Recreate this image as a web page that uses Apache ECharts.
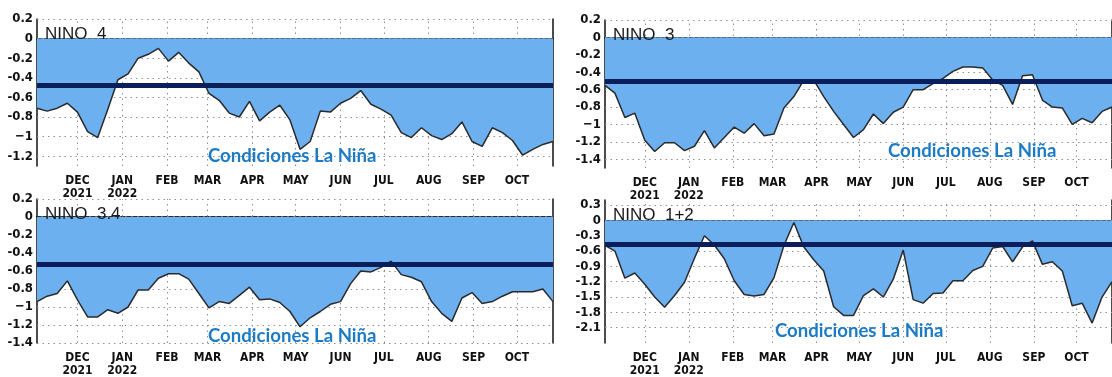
<!DOCTYPE html>
<html>
<head>
<meta charset="utf-8">
<script src="https://cdn.jsdelivr.net/npm/echarts@6/dist/echarts.min.js"></script>
<style>
  html, body { margin: 0; padding: 0; background: #fff; }
  #chart { width: 1112px; height: 377px; }
</style>
</head>
<body>
<div id="chart"></div>
<script>
// weekly values (Wednesdays) starting 3 Nov 2021
var weekStart = [2021, 10, 3];
var weekCount = 52;
var monthTicks = [[2021, 11, 1], [2022, 0, 1], [2022, 1, 1], [2022, 2, 1], [2022, 3, 1], [2022, 4, 1],
                  [2022, 5, 1], [2022, 6, 1], [2022, 7, 1], [2022, 8, 1], [2022, 9, 1]];
var monthLabels = ['DEC\n2021', 'JAN\n2022', 'FEB', 'MAR', 'APR', 'MAY', 'JUN', 'JUL', 'AUG', 'SEP', 'OCT'];

var nino4 = [-0.71, -0.74, -0.71, -0.66, -0.75, -0.95, -1.01, -0.72, -0.42, -0.36, -0.2, -0.16, -0.1,
             -0.23, -0.14, -0.25, -0.34, -0.56, -0.63, -0.76, -0.8, -0.64, -0.84, -0.75, -0.68, -0.83,
             -1.13, -1.05, -0.74, -0.75, -0.66, -0.61, -0.53, -0.67, -0.72, -0.78, -0.96, -1.01, -0.91,
             -0.99, -1.03, -0.97, -0.85, -1.05, -1.1, -0.91, -0.96, -1.04, -1.19, -1.13, -1.08, -1.05];
var nino3 = [-0.55, -0.64, -0.92, -0.87, -1.18, -1.31, -1.21, -1.21, -1.3, -1.25, -1.07, -1.27, -1.15,
             -1.03, -1.1, -0.99, -1.13, -1.11, -0.81, -0.68, -0.49, -0.49, -0.68, -0.85, -1.0, -1.15,
             -1.06, -0.88, -0.99, -0.86, -0.8, -0.6, -0.6, -0.53, -0.47, -0.39, -0.34, -0.34, -0.35,
             -0.49, -0.55, -0.77, -0.44, -0.43, -0.72, -0.8, -0.81, -1.0, -0.93, -0.98, -0.85, -0.8];
var nino34 = [-0.94, -0.88, -0.85, -0.71, -0.92, -1.11, -1.11, -1.03, -1.07, -1.0, -0.81, -0.81, -0.68,
              -0.63, -0.63, -0.69, -0.85, -1.01, -0.94, -0.96, -0.87, -0.78, -0.92, -0.91, -0.95, -1.05,
              -1.22, -1.12, -1.05, -0.97, -0.94, -0.74, -0.6, -0.61, -0.56, -0.49, -0.64, -0.67, -0.72,
              -0.94, -1.07, -1.16, -0.9, -0.84, -0.96, -0.94, -0.88, -0.83, -0.83, -0.83, -0.8, -0.94];
var nino12 = [-0.49, -0.6, -1.13, -1.03, -1.25, -1.5, -1.7, -1.47, -1.21, -0.74, -0.3, -0.48, -0.75,
              -1.18, -1.45, -1.48, -1.45, -1.12, -0.49, -0.04, -0.52, -0.77, -0.99, -1.69, -1.86, -1.86,
              -1.47, -1.34, -1.5, -1.15, -0.58, -1.55, -1.62, -1.43, -1.42, -1.18, -1.18, -0.98, -0.9,
              -0.54, -0.51, -0.81, -0.52, -0.4, -0.86, -0.81, -0.99, -1.67, -1.62, -2.01, -1.5, -1.2];

var ticksA = [0.2, 0, -0.2, -0.4, -0.6, -0.8, -1, -1.2];
var ticksB = [0.2, 0, -0.2, -0.4, -0.6, -0.8, -1, -1.2, -1.4];
var ticksC = [0.3, 0, -0.3, -0.6, -0.9, -1.2, -1.5, -1.8, -2.1];

var panels = [
  { name: 'NINO  4',   data: nino4,  min: -1.3, max: 0.2, ticks: ticksA, limit: -0.48,
    rect: [37, 19, 516, 147],  note: [208, 146] },
  { name: 'NINO  3',   data: nino3,  min: -1.5, max: 0.2, ticks: ticksB, limit: -0.5,
    rect: [605, 20, 520, 148], note: [888, 141] },
  { name: 'NINO  3.4', data: nino34, min: -1.4, max: 0.2, ticks: ticksB, limit: -0.53,
    rect: [37, 199, 516, 146], note: [208, 326] },
  { name: 'NINO  1+2', data: nino12, min: -2.4, max: 0.4, ticks: ticksC, limit: -0.47,
    rect: [605, 200, 520, 149], note: [775, 321] }
];

var fill = '#6DB0F0';
var navy = '#0A1E5C';
var ink = '#1a1a1a';
var dotted = { color: '#8f8f8f', width: 1, type: [1.5, 4] };
var narrow = '"Liberation Sans Narrow", "DejaVu Sans Condensed", sans-serif';

function ts(d) { return +new Date(d[0], d[1], d[2]); }
var weekDays = [];
for (var w = 0; w < weekCount; w++) {
  weekDays.push(+new Date(weekStart[0], weekStart[1], weekStart[2] + w * 7));
}
var monthValues = monthTicks.map(ts);
var xMin = weekDays[0], xMax = weekDays[weekCount - 1];

function yLabel(v) {
  if (Math.abs(v) < 1e-9) return '0';
  if (Math.abs(v + 1) < 1e-9) return '\u22121';
  return (Math.round(v * 10) / 10).toFixed(1);
}
function xLabel(v) {
  for (var i = 0; i < monthValues.length; i++) {
    if (Math.abs(monthValues[i] - v) < 3600000) return monthLabels[i];
  }
  return '';
}

var chart = echarts.init(document.getElementById('chart'));
var grids = [], xAxes = [], yAxes = [], series = [], titles = [];

panels.forEach(function(p, k) {
  grids.push({ left: p.rect[0], top: p.rect[1], width: p.rect[2], height: p.rect[3], show: false });

  // bottom axis, month ticks (x = timestamps on a value axis)
  xAxes.push({
    type: 'value', gridIndex: k, min: xMin, max: xMax, position: 'bottom',
    axisLine: { lineStyle: { color: '#111', width: 1.5, type: k === 2 ? [4, 2] : 'solid' } },
    axisTick: { show: true, length: 3, lineStyle: { color: '#444' }, customValues: monthValues },
    axisLabel: {
      customValues: monthValues, margin: 8, color: '#111', fontFamily: narrow,
      fontWeight: 'bold', fontSize: 12, lineHeight: 13, formatter: xLabel
    },
    splitLine: { show: false }
  });
  // top border
  xAxes.push({
    type: 'value', gridIndex: k, min: xMin, max: xMax, position: 'top',
    axisLine: { lineStyle: { color: '#222', width: 1.5, type: k === 3 ? 'solid' : [4, 2] } },
    axisTick: { show: false }, axisLabel: { show: false }, splitLine: { show: false }
  });

  yAxes.push({
    type: 'value', gridIndex: k, min: p.min, max: p.max, position: 'left',
    axisLine: { show: true, lineStyle: { color: '#111', width: 1.5 } },
    axisTick: { show: false, customValues: p.ticks },
    axisLabel: {
      customValues: p.ticks, margin: 4, color: '#111', fontFamily: narrow,
      fontWeight: 'bold', fontSize: 13, formatter: yLabel
    },
    splitLine: { show: false }
  });
  // right border
  yAxes.push({
    type: 'value', gridIndex: k, min: p.min, max: p.max, position: 'right',
    axisLine: { show: true, lineStyle: { color: '#111', width: 1.5 } },
    axisTick: { show: false }, axisLabel: { show: false }, splitLine: { show: false }
  });

  var points = p.data.map(function(v, i) { return [weekDays[i], v]; });

  // dotted grid at the tick values, drawn under the fill (carrier line itself is invisible)
  series.push({
    type: 'line', xAxisIndex: k * 2, yAxisIndex: k * 2, data: points, z: 1,
    showSymbol: false, silent: true, lineStyle: { opacity: 0 },
    markLine: {
      silent: true, symbol: 'none', label: { show: false }, z: 1,
      lineStyle: dotted,
      data: p.ticks.map(function(t) { return { yAxis: t }; })
        .concat(monthValues.map(function(m) { return { xAxis: m }; }))
    }
  });

  series.push({
    type: 'line',
    xAxisIndex: k * 2, yAxisIndex: k * 2,
    data: points,
    showSymbol: false,
    lineStyle: { color: '#2a2a2a', width: 1.5 },
    areaStyle: { color: fill, opacity: 1, origin: 0 },
    markLine: {
      silent: true, symbol: 'none', label: { show: false }, z: 4,
      lineStyle: { color: navy, width: 5, type: 'solid' },
      data: [{ yAxis: p.limit }]
    },
    z: 3
  });

  titles.push({
    text: p.name, left: p.rect[0] + 8, top: p.rect[1] + 7, padding: 0,
    textStyle: { fontFamily: 'Liberation Sans, Arial, sans-serif', fontSize: 17, fontWeight: 'normal', color: ink }
  });
  titles.push({
    text: 'Condiciones La Niña', left: p.note[0], top: p.note[1], padding: 0,
    textStyle: { fontFamily: 'Lato, "Open Sans", sans-serif', fontSize: 18.6, fontWeight: 'bold', color: '#1D7BC6' }
  });
});

chart.setOption({
  animation: false,
  backgroundColor: '#fff',
  title: titles,
  grid: grids,
  xAxis: xAxes,
  yAxis: yAxes,
  series: series
});
</script>
</body>
</html>
